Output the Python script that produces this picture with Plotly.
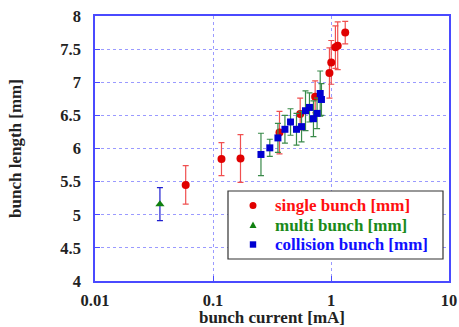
import plotly.graph_objects as go

# bunch length vs bunch current
single_x = [0.0587, 0.118, 0.171, 0.366, 0.548, 0.734, 0.97, 1.005, 1.09, 1.14, 1.32]
single_y = [5.45, 5.84, 5.85, 6.24, 6.52, 6.78, 7.14, 7.30, 7.53, 7.55, 7.75]
single_err = [0.29, 0.25, 0.36, 0.32, 0.24, 0.24, 0.38, 0.33, 0.32, 0.36, 0.17]

multi_x = [0.0355]
multi_y = [5.16]
multi_err = [0.25]

coll_x = [0.255, 0.303, 0.355, 0.407, 0.454, 0.51, 0.563, 0.608, 0.657, 0.71, 0.762, 0.81, 0.83]
coll_y = [5.91, 6.01, 6.16, 6.29, 6.40, 6.29, 6.33, 6.57, 6.62, 6.45, 6.53, 6.83, 6.74]
coll_err = [0.32, 0.13, 0.22, 0.21, 0.20, 0.24, 0.23, 0.30, 0.22, 0.27, 0.23, 0.34, 0.24]

x_ticks = [0.01, 0.1, 1, 10]
x_tick_text = ["0.01", "0.1", "1", "10"]
y_ticks = [4, 4.5, 5, 5.5, 6, 6.5, 7, 7.5, 8]
y_tick_text = ["4", "4.5", "5", "5.5", "6", "6.5", "7", "7.5", "8"]

series_names = ["single bunch [mm]", "multi bunch [mm]", "collision bunch [mm]"]
series_text_colors = ["#ff1010", "#1a8a1a", "#1010ff"]
series_marker_colors = ["#e00000", "#108010", "#0000d0"]

SERIF = "Liberation Serif"
AXIS_BLUE = "#4a4aff"
GRID_BLUE = "#9a9aff"

W, H = 459, 327
ML, MR, MT, MB = 95, 10, 16, 46
PW, PH = W - ML - MR, H - MT - MB


def bold(s):
    return "<b>" + s + "</b>"


def fx(px):
    # page pixel -> plot-area fraction (x)
    return (px - ML) / PW


def fy(py):
    # page pixel -> plot-area fraction (y)
    return (H - MB - py) / PH


fig = go.Figure()

fig.add_trace(go.Scatter(
    x=single_x, y=single_y, mode="markers", name=series_names[0],
    marker=dict(symbol="circle", size=8, color=series_marker_colors[0]),
    error_y=dict(type="data", array=single_err, color="#f05050", thickness=1.2, width=3),
))
fig.add_trace(go.Scatter(
    x=multi_x, y=multi_y, mode="markers", name=series_names[1],
    marker=dict(symbol="triangle-up", size=8, color=series_marker_colors[1]),
    error_y=dict(type="data", array=multi_err, color="#2020d0", thickness=1.2, width=3),
))
fig.add_trace(go.Scatter(
    x=coll_x, y=coll_y, mode="markers", name=series_names[2],
    marker=dict(symbol="square", size=7, color=series_marker_colors[2]),
    error_y=dict(type="data", array=coll_err, color="#3a8a4a", thickness=1.2, width=3),
))

# key box drawn by hand so the rows can sit tightly together
box_l, box_r, box_t, box_b = 228, 443, 191, 259
row_y = [205.5, 225, 244.5]
sym_x, txt_x = 253, 274
shapes = [dict(type="rect", xref="paper", yref="paper",
               x0=fx(box_l), x1=fx(box_r), y0=fy(box_b), y1=fy(box_t),
               line=dict(color="#333333", width=1.2), fillcolor="white", layer="above")]
r = 3.5
# circle
shapes.append(dict(type="circle", xref="paper", yref="paper",
                   x0=fx(sym_x - r), x1=fx(sym_x + r), y0=fy(row_y[0] + r), y1=fy(row_y[0] - r),
                   line=dict(width=0), fillcolor=series_marker_colors[0], layer="above"))
# triangle
tx0, ty0 = fx(sym_x - 3.5), fy(row_y[1] + 3)
tx1, ty1 = fx(sym_x + 3.5), fy(row_y[1] - 3.5)
shapes.append(dict(type="path", xref="paper", yref="paper",
                   path=f"M {tx0} {ty0} L {tx1} {ty0} L {fx(sym_x)} {ty1} Z",
                   line=dict(width=0), fillcolor=series_marker_colors[1], layer="above"))
# square
shapes.append(dict(type="rect", xref="paper", yref="paper",
                   x0=fx(sym_x - 3.2), x1=fx(sym_x + 3.2), y0=fy(row_y[2] + 3.2), y1=fy(row_y[2] - 3.2),
                   line=dict(width=0), fillcolor=series_marker_colors[2], layer="above"))

annotations = []
for name, col, yy in zip(series_names, series_text_colors, row_y):
    annotations.append(dict(
        xref="paper", yref="paper", x=fx(txt_x), y=fy(yy),
        xanchor="left", yanchor="middle", showarrow=False,
        borderpad=0, valign="middle",
        text=bold(name), font=dict(family=SERIF, size=17, color=col),
    ))

fig.update_layout(
    width=W, height=H,
    margin=dict(l=ML, r=MR, t=MT, b=MB, autoexpand=False),
    paper_bgcolor="white", plot_bgcolor="white",
    font=dict(family=SERIF, size=16.5, color="#222222"),
    showlegend=False,
    shapes=shapes,
    annotations=annotations,
)

fig.update_xaxes(
    type="log", range=[-2, 1],
    tickvals=x_ticks, ticktext=[bold(t) for t in x_tick_text],
    showgrid=True, gridcolor=GRID_BLUE, griddash="dot", gridwidth=1,
    showline=True, linecolor=AXIS_BLUE, linewidth=1.5, mirror=True,
    ticks="inside", ticklen=5, tickcolor=AXIS_BLUE,
    ticklabelstandoff=3,
    zeroline=False, automargin=False,
    tickfont=dict(family=SERIF, size=16.5),
    title=dict(text=bold("bunch current [mA]"), font=dict(family=SERIF, size=17), standoff=2),
)
fig.update_yaxes(
    range=[4, 8],
    tickvals=y_ticks, ticktext=[bold(t) for t in y_tick_text],
    showgrid=True, gridcolor=GRID_BLUE, griddash="dot", gridwidth=1,
    showline=True, linecolor=AXIS_BLUE, linewidth=1.5, mirror=True,
    ticks="inside", ticklen=5, tickcolor=AXIS_BLUE,
    ticklabelstandoff=9,
    zeroline=False, automargin=False,
    tickfont=dict(family=SERIF, size=16.5),
    title=dict(text=bold("bunch length [mm]"), font=dict(family=SERIF, size=17), standoff=34),
)

fig.write_html("out.html")
